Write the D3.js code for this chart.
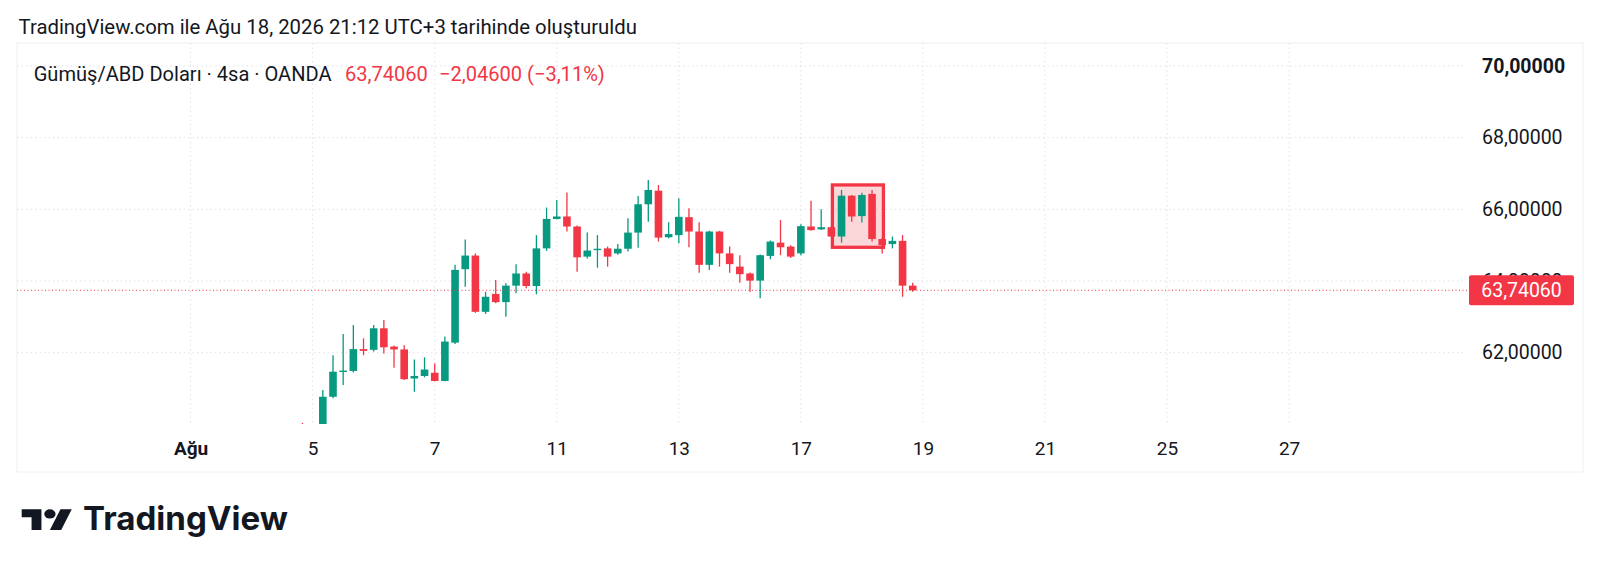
<!DOCTYPE html>
<html><head><meta charset="utf-8">
<script src="https://cdn.jsdelivr.net/npm/d3@7"></script>
<style>html,body{margin:0;padding:0;background:#fff;}svg{display:block;font-family:Roboto,"Noto Sans",sans-serif;}</style>
</head><body>
<svg id="c" width="1600" height="573"></svg>
<script>
// ---------- data ----------
const tradingDays = ["2026-08-03","2026-08-04","2026-08-05","2026-08-06","2026-08-07","2026-08-10","2026-08-11","2026-08-12","2026-08-13","2026-08-14","2026-08-17","2026-08-18","2026-08-19","2026-08-20","2026-08-21","2026-08-24","2026-08-25","2026-08-26","2026-08-27"];
const tickDates  = ["2026-08-03","2026-08-05","2026-08-07","2026-08-11","2026-08-13","2026-08-17","2026-08-19","2026-08-21","2026-08-25","2026-08-27"];
const tickLabels = ["Ağu","5","7","11","13","17","19","21","25","27"];
const priceTicks = [62, 64, 66, 68, 70];
const barTimes = [
 "2026-08-04 20","2026-08-05 00","2026-08-05 04","2026-08-05 08","2026-08-05 12","2026-08-05 16","2026-08-05 20",
 "2026-08-06 00","2026-08-06 04","2026-08-06 08","2026-08-06 12","2026-08-06 16","2026-08-06 20",
 "2026-08-07 00","2026-08-07 04","2026-08-07 08","2026-08-07 12","2026-08-07 16","2026-08-07 20",
 "2026-08-10 00","2026-08-10 04","2026-08-10 08","2026-08-10 12","2026-08-10 16","2026-08-10 20",
 "2026-08-11 00","2026-08-11 04","2026-08-11 08","2026-08-11 12","2026-08-11 16","2026-08-11 20",
 "2026-08-12 00","2026-08-12 04","2026-08-12 08","2026-08-12 12","2026-08-12 16","2026-08-12 20",
 "2026-08-13 00","2026-08-13 04","2026-08-13 08","2026-08-13 12","2026-08-13 16","2026-08-13 20",
 "2026-08-14 00","2026-08-14 04","2026-08-14 08","2026-08-14 12","2026-08-14 16","2026-08-14 20",
 "2026-08-17 00","2026-08-17 04","2026-08-17 08","2026-08-17 12","2026-08-17 16","2026-08-17 20",
 "2026-08-18 00","2026-08-18 04","2026-08-18 08","2026-08-18 12","2026-08-18 16","2026-08-18 20"];
const opens  = [59.85,59.70,59.78,60.77,61.46,61.49,62.10, 62.08,62.68,62.17,62.09,61.28,61.35, 61.44,61.21,62.28,64.33,64.71,63.14, 63.64,63.41,63.87,64.21,63.86,64.91, 65.73,65.80,65.52,64.68,64.86,64.91, 64.77,64.90,65.35,66.14,66.52,65.22, 65.28,65.78,65.38,64.45,65.38,64.77, 64.40,64.21,64.01,64.70,65.07,64.96, 64.77,65.52,65.44,65.50,65.24,66.38, 65.81,66.43,65.17,65.03,65.12,63.87];
const highs  = [60.04,59.95,60.96,61.93,62.52,62.77,62.40, 62.77,62.91,62.20,62.21,61.81,61.87, 61.70,62.45,64.45,65.16,64.77,63.70, 64.03,63.94,64.47,64.26,65.28,66.05, 66.26,66.47,65.55,65.35,65.28,64.96, 65.03,65.75,66.37,66.82,66.68,65.64, 66.31,66.03,65.64,65.40,65.40,64.96, 64.72,64.24,64.74,65.13,65.70,65.00, 65.58,66.24,66.00,65.52,66.54,66.40, 66.46,66.54,65.20,65.24,65.28,63.95];
const lows   = [59.55,59.50,59.70,60.73,61.10,61.45,61.93, 62.03,61.98,61.58,61.24,60.91,61.31, 61.20,61.20,62.24,63.84,63.11,63.08, 63.38,63.00,63.66,63.80,63.63,64.84, 65.72,65.38,64.26,64.63,64.37,64.40, 64.73,64.82,64.93,65.65,65.10,65.19, 65.05,64.94,64.23,64.31,64.40,64.23, 63.95,63.70,63.52,64.61,64.72,64.64, 64.72,65.40,65.42,65.22,65.07,65.65, 65.63,65.10,64.77,64.91,63.56,63.70];
const closes = [59.70,59.78,60.77,61.47,61.50,62.10,62.05, 62.68,62.15,62.09,61.26,61.35,61.53, 61.21,62.31,64.31,64.71,63.14,63.56, 63.41,63.87,64.21,63.86,64.91,65.73, 65.80,65.52,64.66,64.85,64.90,64.68, 64.90,65.35,66.14,66.54,65.21,65.31, 65.79,65.38,64.45,65.38,64.77,64.47, 64.19,64.01,64.72,65.10,64.94,64.68, 65.53,65.42,65.50,65.24,66.38,65.80, 66.40,65.17,65.00,65.12,63.87,63.7406];
const lastPrice = 63.7406;
const boxTimes = ["2026-08-17 12", "2026-08-18 08"]; // highlight box (bar anchored)
const boxPrices = [66.68, 64.94];

const titleText = "TradingView.com ile Ağu 18, 2026 21:12 UTC+3 tarihinde oluşturuldu";
const symbolText = "Gümüş/ABD Doları · 4sa · OANDA";
const priceText = "63,74060";
const changeText = "−2,04600 (−3,11%)";

// ---------- layout ----------
const UP = "#089981", DOWN = "#F23645", TXT = "#131722", GRID = "#dfe2ea";
const frame = {x0: 17, y0: 43, x1: 1583, y1: 472};
const plot = {x0: 17, x1: 1465, y0: 43, y1: 424};
const svg = d3.select("#c");

function barIndex(t) {
  const [d, h] = t.split(" ");
  return tradingDays.indexOf(d) * 6 + (+h) / 4;
}
const x = d3.scaleLinear().domain([-17.07, 125.3]).range([plot.x0, plot.x1]);
const y = d3.scaleLinear().domain([60.01, 70.64]).range([plot.y1, plot.y0]);
const loc = d3.formatLocale({decimal: ",", thousands: ".", grouping: [3], currency: ["", ""]});
const fmt = loc.format(".5f");

function fit(sel, target) {
  const w = sel.node().getComputedTextLength();
  const fs = parseFloat(sel.attr("font-size"));
  sel.attr("font-size", fs * target / w);
  return sel;
}

// title
fit(svg.append("text").attr("x", 18.5).attr("y", 33.5).attr("font-size", 20).attr("fill", TXT).text(titleText), 619);

// frame
svg.append("rect").attr("x", frame.x0).attr("y", frame.y0).attr("width", frame.x1 - frame.x0).attr("height", frame.y1 - frame.y0)
  .attr("fill", "none").attr("stroke", "#eef0f4").attr("stroke-width", 1);

// clip
svg.append("clipPath").attr("id", "pc").append("rect")
  .attr("x", plot.x0).attr("y", plot.y0).attr("width", plot.x1 - plot.x0).attr("height", plot.y1 - plot.y0);

// gridlines
const tickBars = tickDates.map(d => tradingDays.indexOf(d) * 6);
svg.append("g").selectAll("line").data(tickBars).join("line")
  .attr("x1", d => x(d)).attr("x2", d => x(d)).attr("y1", plot.y0).attr("y2", plot.y1)
  .attr("stroke", GRID).attr("stroke-dasharray", "1.5,3");
svg.append("g").selectAll("line").data(priceTicks).join("line")
  .attr("x1", plot.x0).attr("x2", plot.x1).attr("y1", d => y(d)).attr("y2", d => y(d))
  .attr("stroke", GRID).attr("stroke-dasharray", "1.5,3");

// header
const hdrY = 80.5;
const sym = fit(svg.append("text").attr("x", 33.7).attr("y", hdrY).attr("font-size", 20).attr("fill", TXT).text(symbolText), 298);
const hfs = sym.attr("font-size");
svg.append("text").attr("x", 345).attr("y", hdrY).attr("font-size", hfs).attr("fill", DOWN).text(priceText);
svg.append("text").attr("x", 439).attr("y", hdrY).attr("font-size", hfs).attr("fill", DOWN).text(changeText);

const g = svg.append("g").attr("clip-path", "url(#pc)");

// highlight box
const bx0 = x(barIndex(boxTimes[0])) + 1, bx1 = x(barIndex(boxTimes[1])) + 1.2;
g.append("rect").attr("x", bx0).attr("y", y(boxPrices[0])).attr("width", bx1 - bx0).attr("height", y(boxPrices[1]) - y(boxPrices[0]))
  .attr("fill", "rgba(242,54,69,0.2)").attr("stroke", DOWN).attr("stroke-width", 3.3);

// candles
const bars = barTimes.map((t, i) => ({i: barIndex(t), o: opens[i], h: highs[i], l: lows[i], c: closes[i]}));
const bw = 7.6;
const cg = g.append("g").selectAll("g").data(bars).join("g");
cg.append("line").attr("x1", d => x(d.i)).attr("x2", d => x(d.i)).attr("y1", d => y(d.h)).attr("y2", d => y(d.l))
  .attr("stroke", d => d.c >= d.o ? UP : DOWN).attr("stroke-width", 1.3);
cg.append("rect").attr("x", d => x(d.i) - bw / 2).attr("width", bw)
  .attr("y", d => y(Math.max(d.o, d.c))).attr("height", d => Math.max(1.3, Math.abs(y(d.o) - y(d.c))))
  .attr("fill", d => d.c >= d.o ? UP : DOWN);

// last price line
svg.append("line").attr("x1", plot.x0).attr("x2", plot.x1 + 4).attr("y1", y(lastPrice)).attr("y2", y(lastPrice))
  .attr("stroke", DOWN).attr("stroke-width", 1).attr("stroke-dasharray", "1,2.5");

// price axis
const pa = svg.append("g").attr("transform", `translate(${plot.x1},0)`)
  .call(d3.axisRight(y).tickValues(priceTicks).tickFormat(fmt).tickSize(0).tickPadding(17));
pa.select(".domain").remove();
pa.selectAll("text").attr("font-size", 19.5).attr("font-family", "Roboto").attr("fill", TXT)
  .attr("font-weight", d => d === 70 ? 700 : 400);

// last price label
const lp = y(lastPrice);
svg.append("rect").attr("x", 1469).attr("y", lp - 15).attr("width", 105).attr("height", 30).attr("rx", 2).attr("fill", DOWN);
svg.append("text").attr("x", 1521.5).attr("y", lp).attr("dy", "0.35em").attr("text-anchor", "middle")
  .attr("font-size", 19.5).attr("fill", "#fff").text(fmt(lastPrice));

// time axis
const ta = svg.append("g").attr("transform", `translate(0,${plot.y1})`)
  .call(d3.axisBottom(x).tickValues(tickBars).tickFormat((d, i) => tickLabels[i]).tickSize(0).tickPadding(18));
ta.select(".domain").remove();
ta.selectAll("text").attr("font-size", 19).attr("font-family", "Roboto").attr("fill", TXT)
  .attr("font-weight", (d, i) => i === 0 ? 700 : 400);

// TradingView logo
const lg = svg.append("g").attr("transform", "translate(21.7,504.7) scale(1.41,1.15)").attr("fill", TXT);
lg.append("path").attr("d", "M14 22H7V11H0V4h14v18zM28 22h-8l7.5-18h8L28 22z");
lg.append("circle").attr("cx", 20).attr("cy", 8).attr("r", 4);
fit(svg.append("text").attr("x", 83).attr("y", 530).attr("font-size", 29).attr("font-weight", 700)
  .attr("font-family", "Inter, Roboto").attr("fill", TXT).text("TradingView"), 205);
</script>
</body></html>
